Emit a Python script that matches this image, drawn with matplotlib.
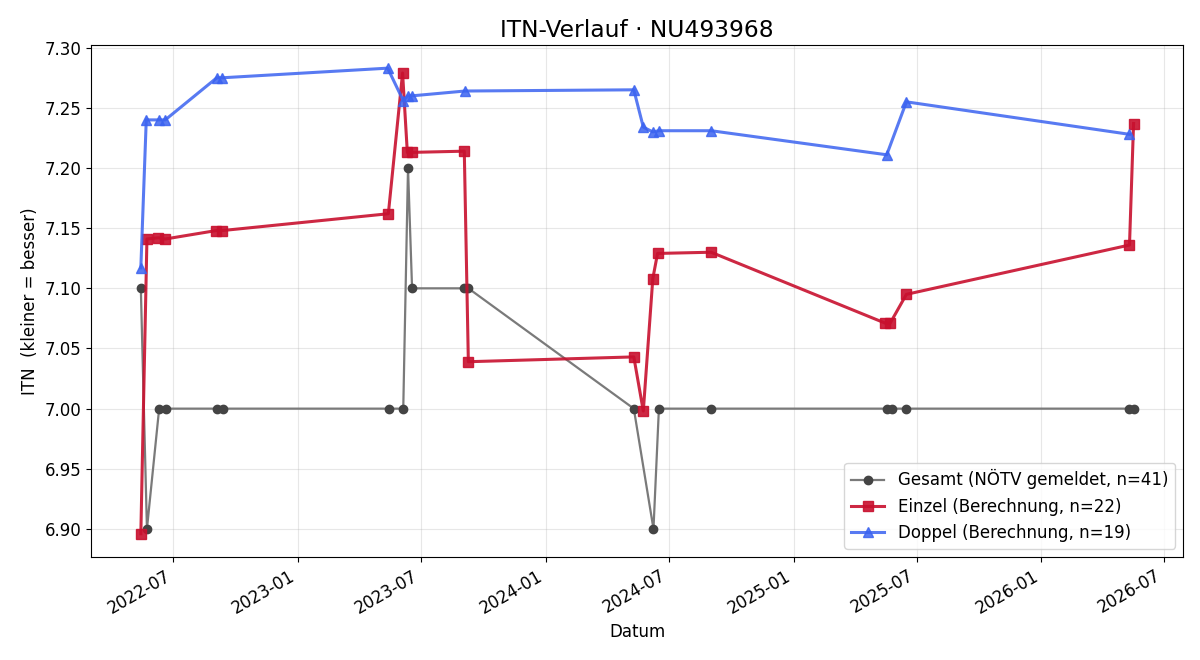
import pandas as pd
import matplotlib
matplotlib.use("Agg")
import matplotlib.pyplot as plt
import matplotlib.dates as mdates

# ── Daten ────────────────────────────────────────────────────
gesamt_dates = ["2022-05-14", "2022-05-23", "2022-06-10", "2022-06-20",
                "2022-09-03", "2022-09-12", "2023-05-15", "2023-06-05",
                "2023-06-12", "2023-06-18", "2023-09-03", "2023-09-09",
                "2024-05-10", "2024-06-08", "2024-06-16", "2024-09-01",
                "2025-05-18", "2025-05-26", "2025-06-16", "2026-05-11",
                "2026-05-17"]
gesamt_itn = [7.10, 6.90, 7.00, 7.00, 7.00, 7.00, 7.00, 7.00, 7.20, 7.10,
              7.10, 7.10, 7.00, 6.90, 7.00, 7.00, 7.00, 7.00, 7.00, 7.00,
              7.00]

einzel_dates = ["2022-05-14", "2022-05-23", "2022-06-09", "2022-06-19",
                "2022-09-02", "2022-09-11", "2023-05-14", "2023-06-04",
                "2023-06-11", "2023-06-18", "2023-09-03", "2023-09-09",
                "2024-05-10", "2024-05-24", "2024-06-07", "2024-06-14",
                "2024-09-01", "2025-05-16", "2025-05-23", "2025-06-16",
                "2026-05-11", "2026-05-17"]
einzel_itn = [6.896, 7.141, 7.142, 7.141, 7.148, 7.148, 7.162, 7.279,
              7.213, 7.213, 7.214, 7.039, 7.043, 6.998, 7.108, 7.129,
              7.130, 7.071, 7.071, 7.095, 7.136, 7.237]

doppel_dates = ["2022-05-14", "2022-05-22", "2022-06-10", "2022-06-19",
                "2022-09-03", "2022-09-11", "2023-05-13", "2023-06-05",
                "2023-06-12", "2023-06-18", "2023-09-04", "2024-05-10",
                "2024-05-24", "2024-06-07", "2024-06-16", "2024-09-01",
                "2025-05-18", "2025-06-16", "2026-05-11"]
doppel_itn = [7.117, 7.240, 7.240, 7.240, 7.275, 7.275, 7.283, 7.256,
              7.260, 7.260, 7.264, 7.265, 7.234, 7.230, 7.231, 7.231,
              7.211, 7.255, 7.228]

fig, ax = plt.subplots(figsize=(12, 6.6), dpi=100)

ax.plot(pd.to_datetime(gesamt_dates), gesamt_itn,
        color='#7a7a7a', lw=1.6, marker='o', markersize=6,
        markerfacecolor='#444444', markeredgecolor='#444444',
        label='Gesamt (NÖTV gemeldet, n=41)')
ax.plot(pd.to_datetime(einzel_dates), einzel_itn,
        color='#c8102e', alpha=0.9, lw=2.2, marker='s', markersize=7,
        label=f'Einzel (Berechnung, n={len(einzel_itn)})')
ax.plot(pd.to_datetime(doppel_dates), doppel_itn,
        color='#3b63f0', alpha=0.85, lw=2.2, marker='^', markersize=7,
        label=f'Doppel (Berechnung, n={len(doppel_itn)})')

ax.set_title('ITN-Verlauf · NU493968', fontsize=16.8)
ax.set_xlabel('Datum', fontsize=12)
ax.set_ylabel('ITN  (kleiner = besser)', fontsize=12)
ax.tick_params(labelsize=12)
ax.xaxis.set_major_locator(mdates.MonthLocator(bymonth=[1, 7]))
ax.xaxis.set_major_formatter(mdates.DateFormatter('%Y-%m'))
ax.grid(True, alpha=0.3)
ax.legend(loc='lower right', fontsize=12)
fig.autofmt_xdate()

fig.subplots_adjust(left=0.076, right=0.986, top=0.932, bottom=0.156)
plt.savefig('out.png', dpi=100)
